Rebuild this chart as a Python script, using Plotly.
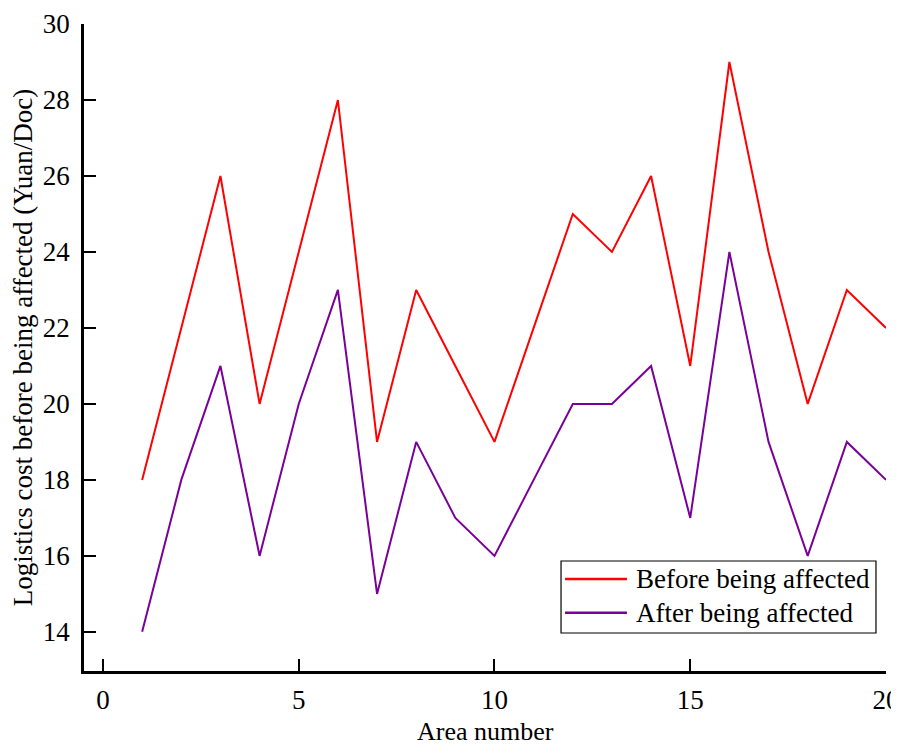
import plotly.graph_objects as go

areas = list(range(1, 21))
before = [18, 22, 26, 20, 24, 28, 19, 23, 21, 19, 22, 25, 24, 26, 21, 29, 24, 20, 23, 22]
after = [14, 18, 21, 16, 20, 23, 15, 19, 17, 16, 18, 20, 20, 21, 17, 24, 19, 16, 19, 18]
x_ticks = [0, 5, 10, 15, 20]
y_ticks = [14, 16, 18, 20, 22, 24, 26, 28, 30]
series_names = ["Before being affected", "After being affected"]
series_colors = ["#FF0000", "#7A0099"]

font_family = "Liberation Serif, Times New Roman, serif"
fs = 27

fig = go.Figure()
for name, vals, col in zip(series_names, [before, after], series_colors):
    fig.add_trace(go.Scatter(x=areas, y=vals, mode="lines", name=name,
                             line=dict(color=col, width=2), showlegend=False))

axis_common = dict(showline=True, linecolor="black", linewidth=2.5, ticks="inside",
                   ticklen=12, tickwidth=2, tickcolor="black", showgrid=False,
                   zeroline=False, mirror=False, automargin=False,
                   ticklabeloverflow="allow",
                   tickfont=dict(family=font_family, size=fs, color="black"))

# custom legend (box, sample lines, labels) in paper coordinates
legend_box = dict(x0=0.5948, x1=0.9875, y0=0.0587, y1=0.1700)
row_y = [0.1422, 0.0901]
line_x = (0.5998, 0.677)
text_x = 0.6858

shapes = [dict(type="rect", xref="paper", yref="paper", line=dict(color="black", width=1.2),
               fillcolor="white", layer="above", **legend_box)]
annotations = []
for name, col, yy in zip(series_names, series_colors, row_y):
    shapes.append(dict(type="line", xref="paper", yref="paper", x0=line_x[0], x1=line_x[1],
                       y0=yy, y1=yy, line=dict(color=col, width=2.5), layer="above"))
    annotations.append(dict(text=name, xref="paper", yref="paper", x=text_x, y=yy,
                            xanchor="left", yanchor="middle", showarrow=False,
                            font=dict(family=font_family, size=fs, color="black")))

# x-axis title
annotations.append(dict(text="Area number", xref="paper", yref="paper", x=0.5, y=0,
                        xanchor="center", yanchor="middle", yshift=-60, showarrow=False,
                        borderpad=0,
                        font=dict(family=font_family, size=26, color="black")))

fig.update_layout(
    width=891, height=741,
    margin=dict(l=76, r=13, t=16, b=78),
    plot_bgcolor="white", paper_bgcolor="white",
    font=dict(family=font_family, size=fs, color="black"),
    xaxis=dict(range=[-0.485, 20.0001], tickvals=x_ticks, ticklabelstandoff=3,
               **axis_common),
    yaxis=dict(range=[12.97, 30.0001], tickvals=y_ticks, ticklabelstandoff=6,
               title=dict(text="Logistics cost before being affected (Yuan/Doc)",
                          font=dict(family=font_family, size=fs), standoff=8),
               **axis_common),
    shapes=shapes,
    annotations=annotations,
    showlegend=False,
)

fig.write_html("out.html")
